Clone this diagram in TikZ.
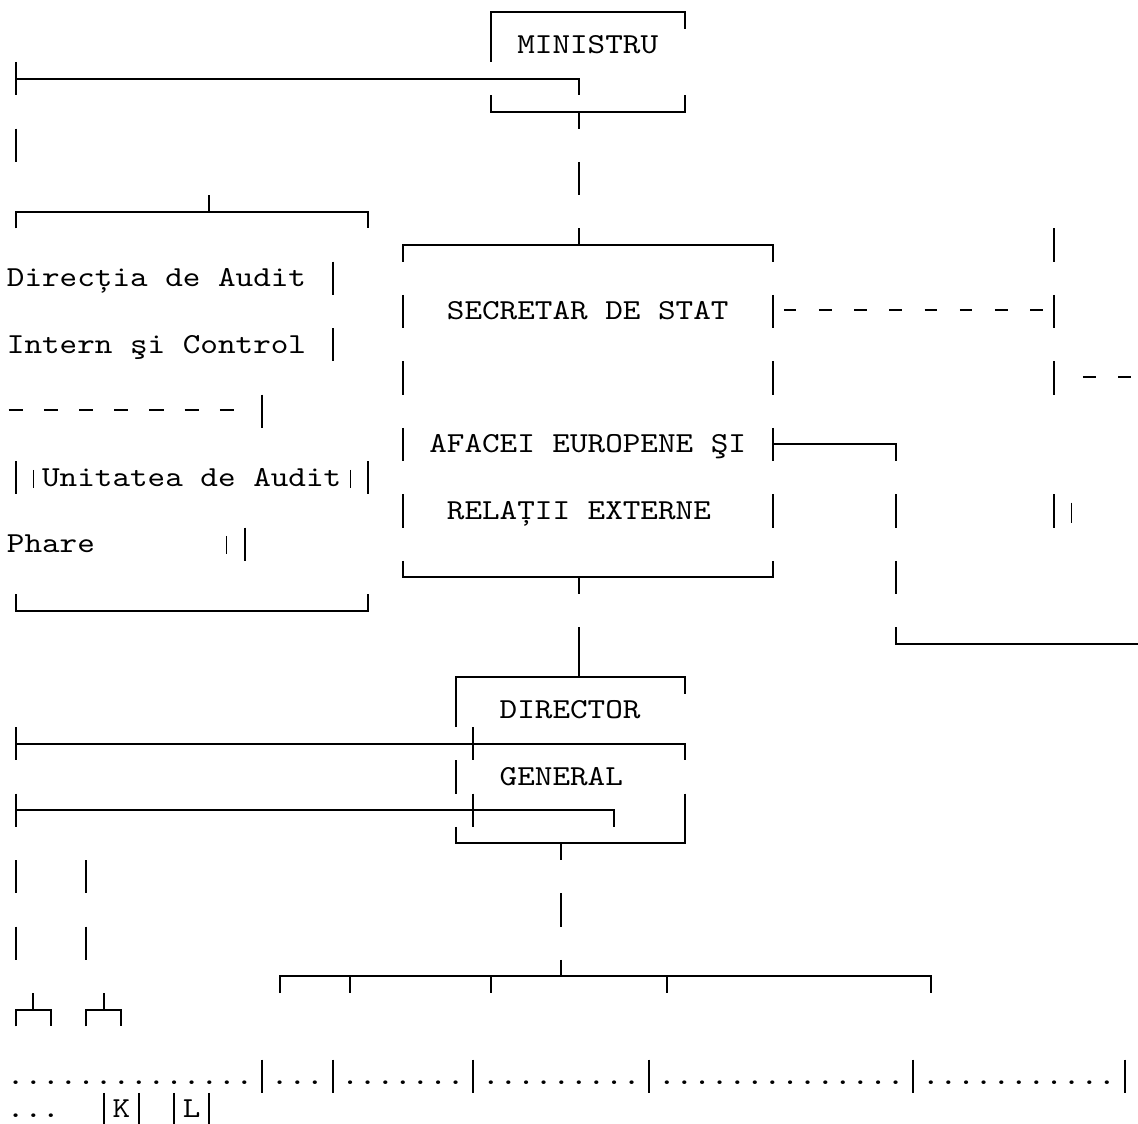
\documentclass[tikz,border=0pt]{standalone}
\usepackage{fontspec}
\newfontfamily\monofnt{lmmono10-regular.otf}[FakeStretch=1.156]
\tikzset{
  glyph/.style={line width=2pt, line cap=butt, line join=miter},
  thinbar/.style={line width=0.9pt},
  txt/.style={anchor=base west, inner sep=0pt, outer sep=0pt,
    font=\monofnt\fontsize{29pt}{33pt}\selectfont},
}
\begin{document}
\begin{tikzpicture}
\useasboundingbox (0pt,0pt) rectangle (1138pt,-1124pt);
\begin{scope}[shift={(15.7pt,4.5pt)},x=17.6pt,y=-33.25pt]
% ---------- text ----------
\node[txt] (ministru) at (28.5,1.752) {MINISTRU};
\node[txt] (dir1) at (-0.5,8.752) {Direcția de Audit};
\node[txt] (sec1) at (24.5,9.752) {SECRETAR DE STAT};
\node[txt] (dir2) at (-0.5,10.752) {Intern şi Control};
\node[txt] (sec2) at (23.5,13.752) {AFACEI EUROPENE ŞI};
\node[txt] (unit1) at (1.5,14.752) {Unitatea de Audit};
\node[txt] (sec3) at (24.5,15.752) {RELAȚII EXTERNE};
\node[txt] (unit2) at (-0.5,16.752) {Phare};
\node[txt] (dg1) at (27.5,21.752) {DIRECTOR};
\node[txt] (dg2) at (27.5,23.752) {GENERAL};
\node[txt] (d1) at (-0.5,32.752) {..............};
\node[txt] (d2) at (14.5,32.752) {...};
\node[txt] (d3) at (18.5,32.752) {.......};
\node[txt] (d4) at (26.5,32.752) {.........};
\node[txt] (d5) at (36.5,32.752) {..............};
\node[txt] (d6) at (51.5,32.752) {...........};
\node[txt] (d7) at (-0.5,33.752) {...};
\node[txt] (kk) at (5.5,33.752) {K};
\node[txt] (ll) at (9.5,33.752) {L};
% ---------- full-cell vertical bars ----------
\foreach \k/\n in {0/2,0/4,32/5,59/7,18/8,22/9,43/9,59/9,18/10,22/11,43/11,59/11,
  14/12,22/13,43/13,0/14,20/14,22/15,43/15,50/15,59/15,13/16,50/17,32/19,
  0/22,26/22,25/23,0/24,26/24,38/24,0/26,4/26,31/27,0/28,4/28,
  14/32,18/32,26/32,36/32,51/32,63/32}
  \draw[glyph] (\k,\n) -- (\k,\n+1);
\foreach \k in {5,7,9,11}
  \draw[glyph] (\k,33) -- (\k,33.95);
% ---------- boxes and connectors ----------
% MINISTRU
\draw[glyph] (27,2) -- (27,0.5) -- (38,0.5) -- (38,1);
\draw[glyph] (27,3) -- (27,3.5) -- (38,3.5) -- (38,3);
\draw[glyph] (32,3.5) -- (32,4);
\draw[glyph] (0,2.5) -- (32,2.5) -- (32,3);
% Directia de audit bracket
\draw[glyph] (0,7) -- (0,6.5) -- (20,6.5) -- (20,7);
\draw[glyph] (11,6) -- (11,6.5);
\draw[glyph] (0,18) -- (0,18.5) -- (20,18.5) -- (20,18);
% SECRETAR DE STAT
\draw[glyph] (22,8) -- (22,7.5) -- (43,7.5) -- (43,8);
\draw[glyph] (32,7) -- (32,7.5);
\draw[glyph] (22,17) -- (22,17.5) -- (43,17.5) -- (43,17);
\draw[glyph] (32,17.5) -- (32,18);
\draw[glyph] (43,13.5) -- (50,13.5) -- (50,14);
\draw[glyph] (50,19) -- (50,19.5) -- (63.75,19.5);
% DIRECTOR GENERAL
\draw[glyph] (25,22) -- (25,20.5) -- (38,20.5) -- (38,21);
\draw[glyph] (32,20) -- (32,20.5);
\draw[glyph] (0,22.5) -- (38,22.5) -- (38,23);
\draw[glyph] (0,24.5) -- (34,24.5) -- (34,25);
\draw[glyph] (25,25) -- (25,25.5) -- (38,25.5) -- (38,25);
\draw[glyph] (31,25.5) -- (31,26);
% lower level
\draw[glyph] (15,30) -- (15,29.5) -- (52,29.5) -- (52,30);
\foreach \k in {19,27,37} \draw[glyph] (\k,29.5) -- (\k,30);
\draw[glyph] (31,29) -- (31,29.5);
\draw[glyph] (0,31) -- (0,30.5) -- (2,30.5) -- (2,31);
\draw[glyph] (1,30) -- (1,30.5);
\draw[glyph] (4,31) -- (4,30.5) -- (6,30.5) -- (6,31);
\draw[glyph] (5,30) -- (5,30.5);
% ---------- dashes ----------
\foreach \k in {44,46,...,58} \draw[glyph] (\k-0.36,9.47) -- (\k+0.36,9.47);
\foreach \k in {61,63} \draw[glyph] (\k-0.36,11.47) -- (\k+0.36,11.47);
\foreach \k in {0,2,...,12} \draw[glyph] (\k-0.4,12.47) -- (\k+0.4,12.47);
% ---------- thin bars ----------
\draw[thinbar] (1,14.27) -- (1,14.8);
\draw[thinbar] (19,14.27) -- (19,14.8);
\draw[thinbar] (60,15.25) -- (60,15.85);
\draw[thinbar] (12,16.25) -- (12,16.8);
\end{scope}
\end{tikzpicture}
\end{document}
